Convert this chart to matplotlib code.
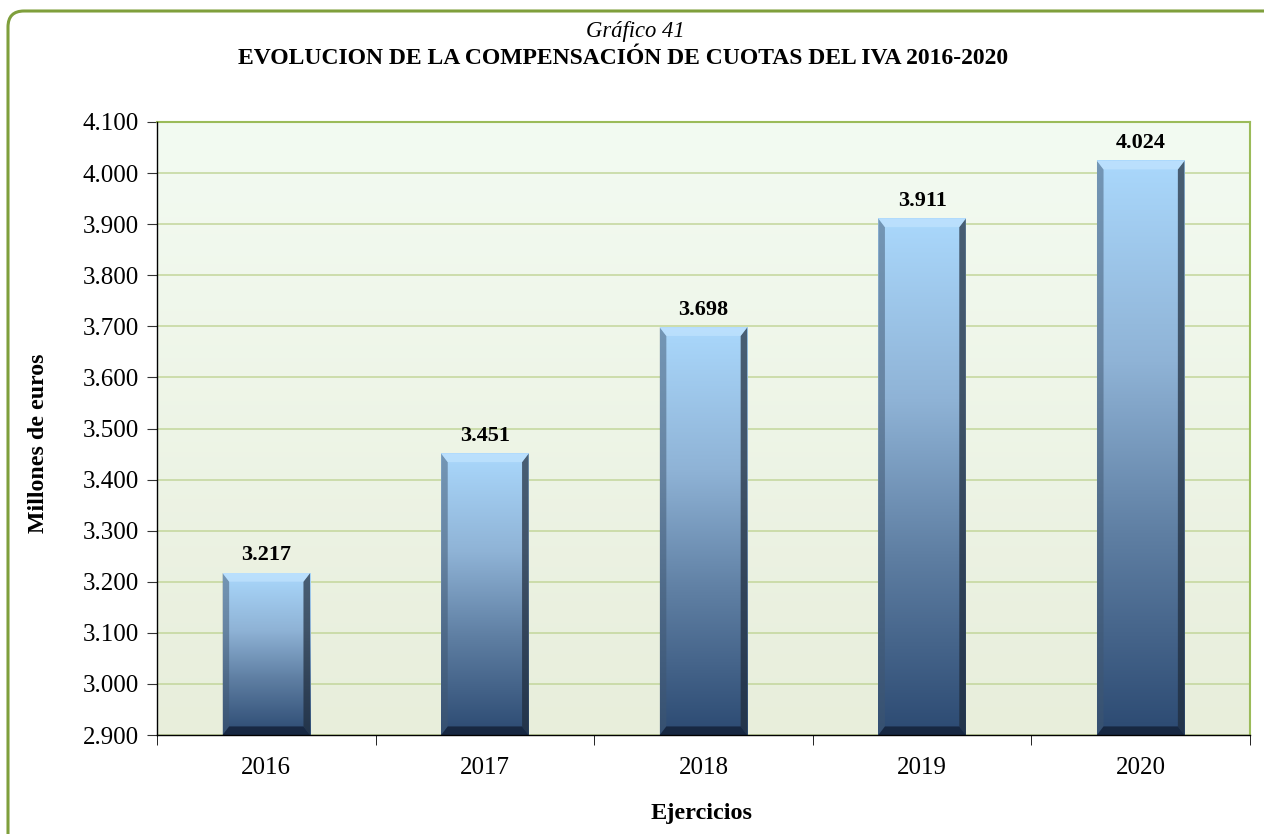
import numpy as np
import matplotlib
matplotlib.use("Agg")
import matplotlib.pyplot as plt
from matplotlib.colors import LinearSegmentedColormap
from matplotlib.patches import Polygon, FancyBboxPatch
from matplotlib.ticker import FuncFormatter, FixedLocator

# Data
years = ["2016", "2017", "2018", "2019", "2020"]
values = [3217, 3451, 3698, 3911, 4024]
y_min, y_max = 2900, 4100

plt.rcParams['font.family'] = ['Liberation Serif', 'DejaVu Serif']

def miles(v, pos=None):
    return f"{int(round(v)):,}".replace(",", ".")

fig = plt.figure(figsize=(12.64, 8.34), dpi=100)
ax = fig.add_axes([157 / 1264, 1 - 735 / 834, (1250 - 157) / 1264, (735 - 122) / 834])

# rounded frame around the chart
frame = FancyBboxPatch((0.08, -0.5), 13.5, 8.23 + 0.5, boxstyle="round,pad=0,rounding_size=0.16",
                       transform=fig.dpi_scale_trans, facecolor="none", edgecolor="#7f9f3c",
                       linewidth=2.2, zorder=0)
fig.patches.append(frame)

# plot area background gradient
bg = LinearSegmentedColormap.from_list("bg", ["#e8eedb", "#f3fbf2"])
ax.imshow(np.linspace(0, 1, 256).reshape(-1, 1), extent=[0, 1, 0, 1], transform=ax.transAxes,
          aspect="auto", cmap=bg, origin="lower", zorder=0)

# bars
bar_cmap = LinearSegmentedColormap.from_list(
    "bar", [(0, "#2c4a72"), (0.35, "#5f7fa3"), (0.65, "#8fb3d6"), (1, "#aad8fc")])
x = np.arange(len(years))
width = 0.4
dx = 0.03
dy = 0.014 * (y_max - y_min)
grad = np.linspace(0, 1, 256).reshape(-1, 1)
for xi, v in zip(x, values):
    x0, x1 = xi - width / 2, xi + width / 2
    ax.imshow(grad, extent=[x0, x1, y_min, v], aspect="auto", cmap=bar_cmap,
              origin="lower", zorder=2)
    dyb = min(dy, (v - y_min) / 2)
    left = Polygon([(x0, y_min), (x0 + dx, y_min + dyb), (x0 + dx, v - dyb), (x0, v)],
                   closed=True, facecolor="#3f5670", alpha=0.5, lw=0, zorder=3)
    right = Polygon([(x1, y_min), (x1 - dx, y_min + dyb), (x1 - dx, v - dyb), (x1, v)],
                    closed=True, facecolor="#1f2b3a", alpha=0.7, lw=0, zorder=3)
    bottom = Polygon([(x0, y_min), (x1, y_min), (x1 - dx, y_min + dyb), (x0 + dx, y_min + dyb)],
                     closed=True, facecolor="#14223a", alpha=0.85, lw=0, zorder=3)
    top = Polygon([(x0, v), (x1, v), (x1 - dx, v - dyb), (x0 + dx, v - dyb)],
                  closed=True, facecolor="#c6e6ff", alpha=0.6, lw=0, zorder=3)
    for p in (left, right, bottom, top):
        ax.add_patch(p)
    ax.text(xi, v + 15, miles(v), ha="center", va="bottom", fontsize=16,
            fontweight="bold", zorder=4)

ax.set_xlim(-0.5, len(years) - 0.5)
ax.set_ylim(y_min, y_max)
ax.set_yticks(np.arange(y_min, y_max + 1, 100))
ax.yaxis.set_major_formatter(FuncFormatter(miles))
ax.grid(axis="y", color="#c3d69b", linewidth=1.1, zorder=1)
ax.set_axisbelow(True)

ax.set_xticks(x)
ax.set_xticklabels(years)
ax.xaxis.set_minor_locator(FixedLocator(np.arange(-0.5, len(years), 1)))
ax.tick_params(axis="x", which="major", length=0, pad=16, labelsize=18)
ax.tick_params(axis="x", which="minor", length=7, direction="out", color="black")
ax.tick_params(axis="y", length=7, direction="out", labelsize=18, pad=6, color="#333333")

for s in ("top", "right"):
    ax.spines[s].set_color("#9bbb59")
    ax.spines[s].set_linewidth(1.5)
for s in ("left", "bottom"):
    ax.spines[s].set_color("black")
    ax.spines[s].set_linewidth(1.0)
    ax.spines[s].set_zorder(5)

fig.text(635 / 1264, 1 - 31 / 834, "Gráfico 41", ha="center", va="center", fontsize=16.3,
         style="italic")
fig.text(623 / 1264, 1 - 59 / 834, "EVOLUCION DE LA COMPENSACIÓN DE CUOTAS DEL IVA 2016-2020",
         ha="center", va="center", fontsize=17, fontweight="bold")
fig.text(39 / 1264, 1 - 443 / 834, "Millones de euros", ha="center", va="center",
         rotation=90, fontsize=17.2, fontweight="bold")
fig.text(702 / 1264, 1 - 813 / 834, "Ejercicios", ha="center", va="center",
         fontsize=17.5, fontweight="bold")

fig.savefig("out.png", dpi=100)
